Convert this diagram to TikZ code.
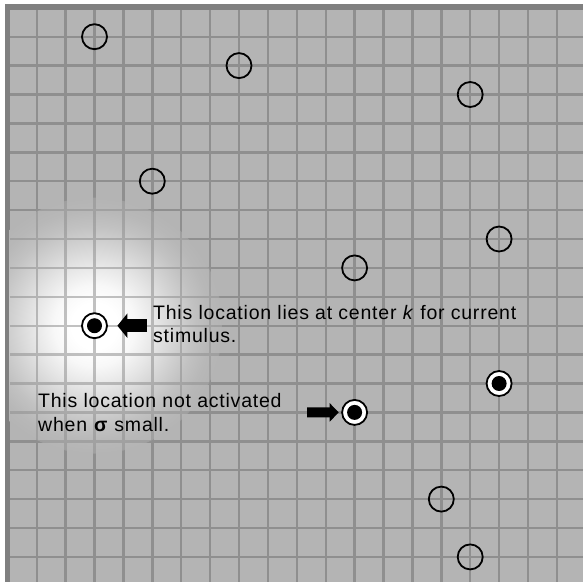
\documentclass[tikz,border=0pt]{standalone}
\usepackage{fontspec}
\setmainfont{Liberation Sans}[LetterSpace=4]
\usetikzlibrary{arrows.meta,calc}
\definecolor{bggray}{RGB}{180,180,180}
\definecolor{linegray}{RGB}{143,143,143}
\definecolor{framegray}{RGB}{128,128,128}
\colorlet{gA}{white!90!bggray}
\colorlet{gB}{white!66!bggray}
\colorlet{gC}{white!40!bggray}
\colorlet{gD}{white!18!bggray}
\colorlet{gE}{white!5!bggray}
\pgfdeclareradialshading{glow}{\pgfpoint{0bp}{0bp}}{color(0bp)=(white); color(4.5bp)=(white); color(8bp)=(gA); color(12bp)=(gB); color(16bp)=(gC); color(19.5bp)=(gD); color(22.5bp)=(gE); color(25bp)=(bggray); color(50bp)=(bggray)}
\begin{document}
\begin{tikzpicture}[x=1pt,y=-1pt,
  site/.style={circle, draw=black, line width=1.8pt, minimum size=25pt, inner sep=0pt},
  active/.style={site, fill=white, path picture={\fill[black] (path picture bounding box.center) circle[radius=7.5pt];}},
  lbl/.style={font=\fontsize{19.5}{22}\selectfont, inner sep=0pt, anchor=base west},
  gridline/.style={draw=linegray, line width=2.4pt},
  bigarrow/.style={line width=13pt, -{Triangle[length=10pt,width=24pt]}},
  smallarrow/.style={line width=10pt, -{Triangle[length=9pt,width=18pt]}}
]
\useasboundingbox (0,0) rectangle (583,582);
\fill[white] (0,0) rectangle (583,582);
\fill[framegray] (5,4) rectangle (583,582);
\fill[bggray] (9.5,9.5) rectangle (583,582);
\begin{scope}
  \clip (9.5,9.5) rectangle (583,582);
  \shade[shading=glow] (94.5,325.7) circle[radius=128pt];
  \foreach \i in {1,...,19} {
    \draw[gridline] ({7.8+28.9*\i},9.5) -- ({7.8+28.9*\i},582);
    \draw[gridline] (9.5,{7.8+28.9*\i}) -- (583,{7.8+28.9*\i});
  }
  \shade[shading=glow, opacity=0.45] (94.5,325.7) circle[radius=128pt];
\end{scope}
% sites
\node[site] (c1) at ({7.8+28.9*3},{7.8+28.9*1}) {};
\node[site] (c2) at ({7.8+28.9*8},{7.8+28.9*2}) {};
\node[site] (c3) at ({7.8+28.9*16},{7.8+28.9*3}) {};
\node[site] (c4) at ({7.8+28.9*5},{7.8+28.9*6}) {};
\node[site] (c5) at ({7.8+28.9*17},{7.8+28.9*8}) {};
\node[site] (c6) at ({7.8+28.9*12},{7.8+28.9*9}) {};
\node[active] (c7) at ({7.8+28.9*3},{7.8+28.9*11}) {};
\node[active] (c8) at ({7.8+28.9*17},{7.8+28.9*13}) {};
\node[active] (c9) at ({7.8+28.9*12},{7.8+28.9*14}) {};
\node[site] (c10) at ({7.8+28.9*15},{7.8+28.9*17}) {};
\node[site] (c11) at ({7.8+28.9*16},{7.8+28.9*19}) {};
% labels
\node[lbl] (t1) at (153,319) {This location lies at center \textit{k} for current};
\node[lbl] (t2) at (153,342.5) {stimulus.};
\node[lbl] (t3) at (38,407) {This location not activated};
\node[lbl] (t4) at (38,431.5) {when \textbf{σ} small.};
% arrows
\draw[bigarrow, shorten <=6pt, shorten >=9.5pt] (c7 -| t1.west) -- (c7.east);
\coordinate (a2s) at (307,412.4);
\draw[smallarrow, shorten >=2.5pt] (a2s) -- (c9.west);
\end{tikzpicture}
\end{document}
